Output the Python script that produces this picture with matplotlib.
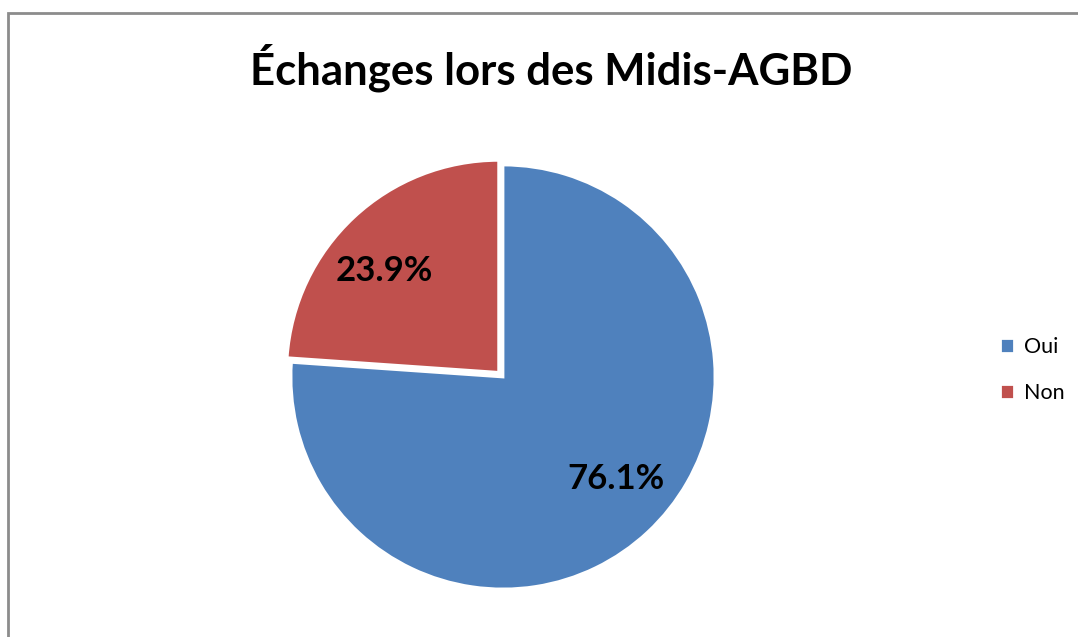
import numpy as np
import matplotlib.pyplot as plt
from matplotlib.patches import Rectangle

# données
labels = ['Oui', 'Non']
values = [76.1, 23.9]
colors = ['#4F81BD', '#C0504D']
title = 'Échanges lors des Midis-AGBD'

W, H = 1078, 637
fig = plt.figure(figsize=(W / 100, H / 100), dpi=100)
plt.rcParams['font.family'] = ['Lato', 'DejaVu Sans']

# cadre gris autour du graphique
fig.patches.append(Rectangle((8 / W, -0.1), 1.2, (H - 13) / H + 0.1,
                             transform=fig.transFigure, fill=False,
                             edgecolor='#8c8c8c', linewidth=2))

# axe du camembert : centre (503, 377), rayon 212 px
r = 212
half = 1.2 * r
cx, cy = 503, H - 377
ax = fig.add_axes([(cx - half) / W, (cy - half) / H, 2 * half / W, 2 * half / H])
wedges, texts, autotexts = ax.pie(values, colors=colors, startangle=90, counterclock=False,
                                  explode=[0, 0.03], autopct='%1.1f%%', pctdistance=0.72,
                                  wedgeprops=dict(edgecolor='white', linewidth=2),
                                  textprops=dict(fontsize=25, fontweight='bold', color='black'))
# Excel décale un peu les étiquettes dans le sens anti-horaire
rot = np.deg2rad(5)
for t in autotexts:
    x, y = t.get_position()
    t.set_position((x * np.cos(rot) - y * np.sin(rot), x * np.sin(rot) + y * np.cos(rot)))
ax.set_xlim(-1.2, 1.2)
ax.set_ylim(-1.2, 1.2)
ax.set_aspect('equal')
ax.axis('off')

fig.text(551 / W, 1 - 68 / H, title, ha='center', va='center',
         fontsize=31.5, fontweight='bold')

fig.legend(wedges, labels, loc='center left', bbox_to_anchor=(981 / W, 1 - 370 / H),
           frameon=False, fontsize=15.5, handlelength=0.65, handleheight=0.65,
           handletextpad=0.45, labelspacing=1.2)

fig.savefig('out.png', dpi=100)
